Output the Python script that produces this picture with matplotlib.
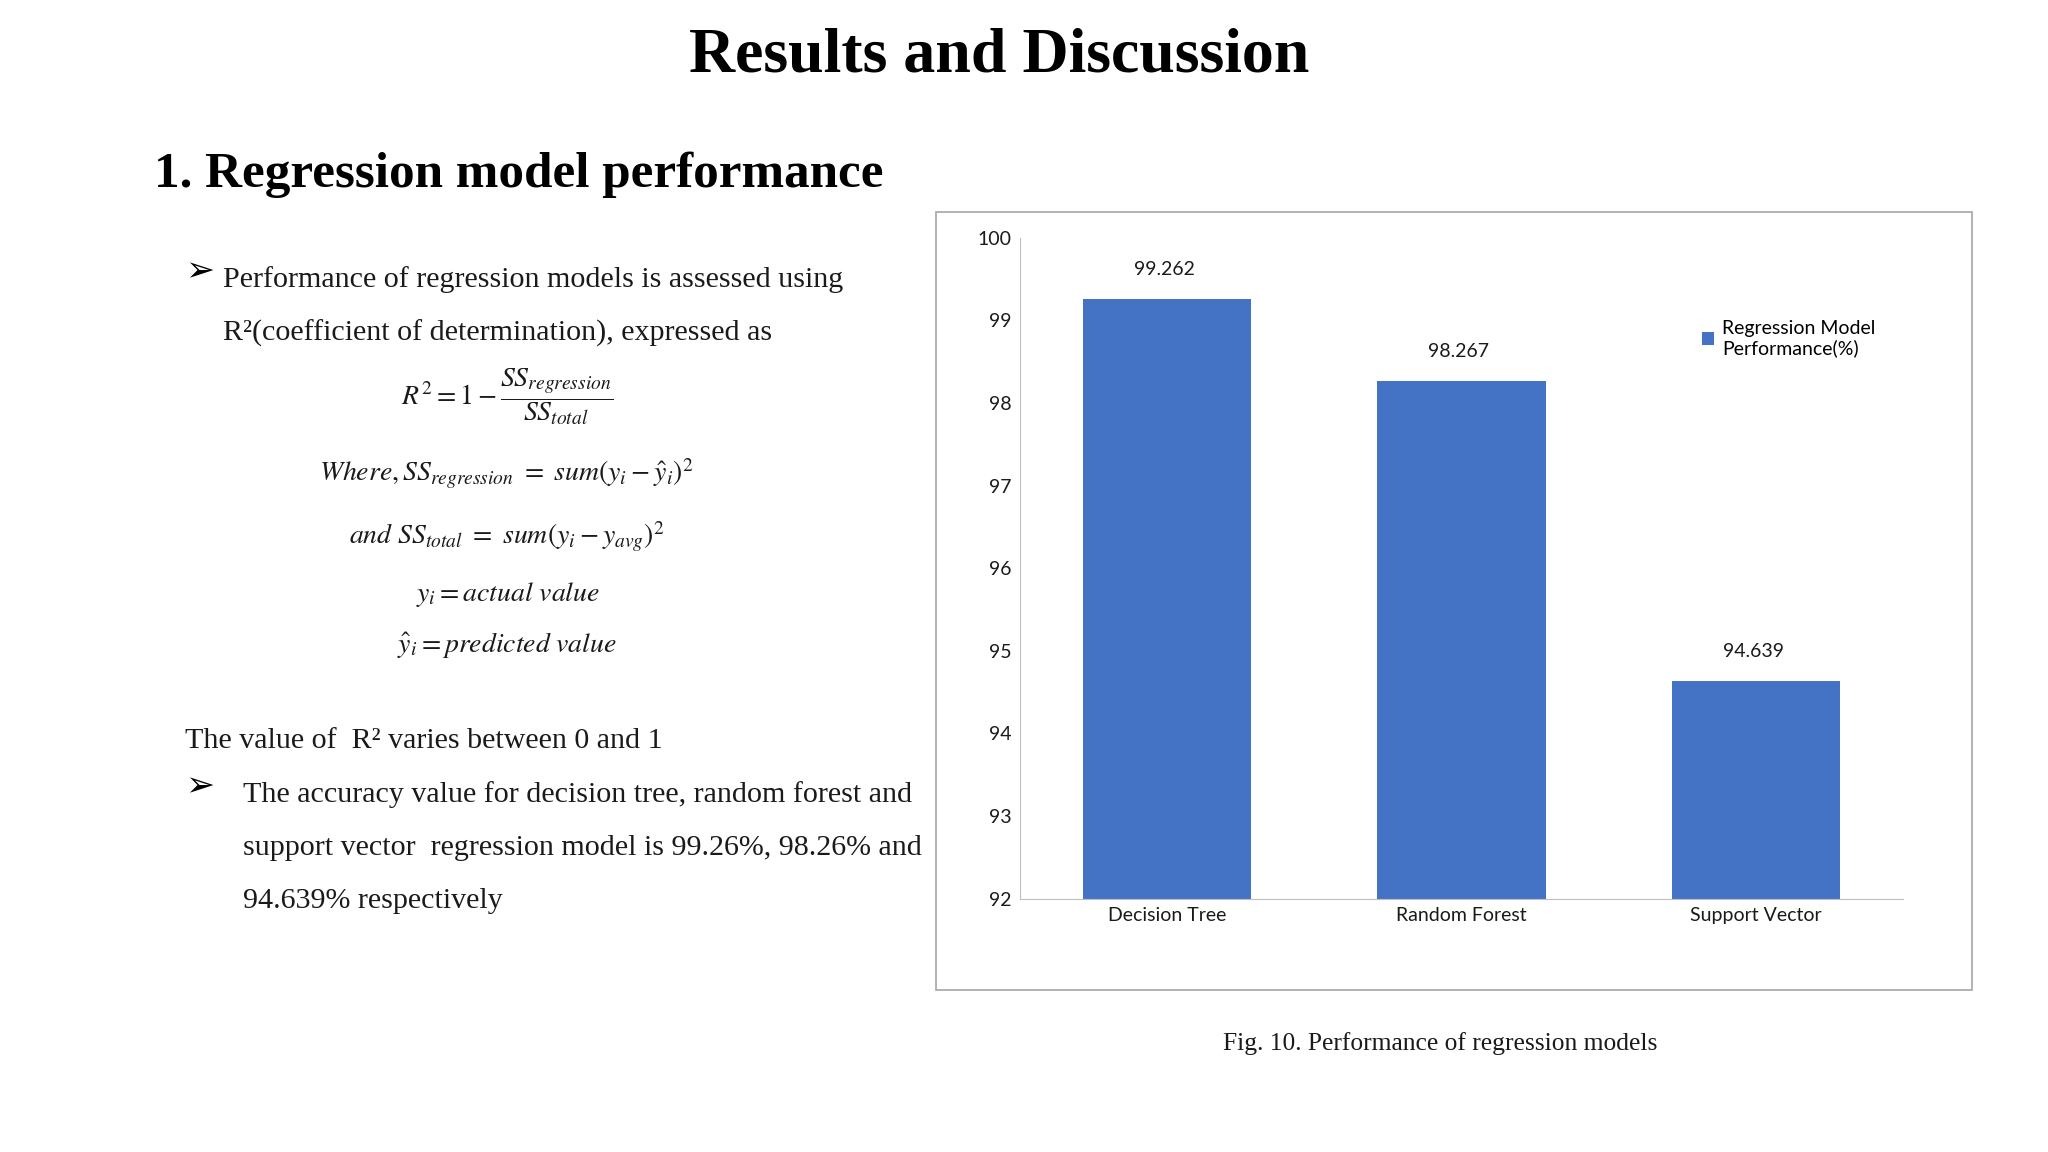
import matplotlib
matplotlib.use("Agg")
import matplotlib.pyplot as plt
from matplotlib.patches import Rectangle

models = ["Decision Tree", "Random Forest", "Support Vector"]
performance = [99.262, 98.267, 94.639]
value_labels = ["99.262", "98.267", "94.639"]
y_ticks = [92, 93, 94, 95, 96, 97, 98, 99, 100]
legend_label = "Regression Model\nPerformance(%)"

title = "Results and Discussion"
heading = "1. Regression model performance"
bullet1 = ["Performance of regression models is assessed using",
           "R\u00b2(coefficient of determination), expressed as"]
formulas = [r"$R^2 = 1 - \dfrac{SS_{regression}}{SS_{total}}$",
            r"$Where, SS_{regression}\ =\ sum(y_i - \hat{y}_i)^2$",
            r"$and\ SS_{total}\ =\ sum(y_i - y_{avg})^2$",
            r"$y_i = actual\ value$",
            r"$\hat{y}_i = predicted\ value$"]
range_text = "The value of  R\u00b2 varies between 0 and 1"
bullet2 = ["The accuracy value for decision tree, random forest and",
           "support vector  regression model is 99.26%, 98.26% and",
           "94.639% respectively"]
caption = "Fig. 10. Performance of regression models"

plt.rcParams["mathtext.fontset"] = "stix"

W, H = 1568.0, 882.0   # layout measured on the reference preview
def fx(px):
    return px / W
def fy(py):
    return 1 - py / H

fig = plt.figure(figsize=(20.48, 11.52), dpi=100)
fig.patch.set_facecolor("white")

serif = "Liberation Serif"
fig.text(fx(765), fy(43), title, ha="center", va="center",
         family=serif, weight="bold", fontsize=46)
fig.text(fx(118), fy(134), heading, ha="left", va="center",
         family=serif, weight="bold", fontsize=36.8)

# first bullet
fig.text(fx(142), fy(208), "\u27a2", ha="left", va="center",
         family="DejaVu Sans", fontsize=25)
for i, line in enumerate(bullet1):
    fig.text(fx(171), fy(214 + 41 * i), line, ha="left", va="center",
             family=serif, fontsize=21.6, color="#1a1a1a")

# formulas
f_pos = [(388, 304), (388, 363), (388, 411), (389, 455), (388, 494)]
for (px, py), f in zip(f_pos, formulas):
    fig.text(fx(px), fy(py), f, ha="center", va="center", fontsize=20,
             color="#1a1a1a")

fig.text(fx(142), fy(567), range_text, ha="left", va="center",
         family=serif, fontsize=21.6, color="#1a1a1a")

fig.text(fx(142), fy(602), "\u27a2", ha="left", va="center",
         family="DejaVu Sans", fontsize=25)
for i, line in enumerate(bullet2):
    fig.text(fx(186), fy(608 + 41 * i), line, ha="left", va="center",
             family=serif, fontsize=21.6, color="#1a1a1a")

fig.text(fx(1103), fy(799), caption, ha="center", va="center",
         family=serif, fontsize=18.4, color="#1a1a1a")

# chart frame
fig.patches.append(Rectangle((fx(717), fy(758)), fx(1510) - fx(717),
                             fy(162) - fy(758), transform=fig.transFigure,
                             fill=False, edgecolor="#A6A6A6", linewidth=1.2))

ax = fig.add_axes([fx(781), fy(688), fx(1457) - fx(781), fy(182) - fy(688)])
x = range(len(models))
bars = ax.bar(x, performance, width=0.572, color="#4472C4",
              label=legend_label)
ax.set_ylim(92, 100)
ax.set_xlim(-0.5, 2.5)
ax.set_yticks(y_ticks)
ax.set_xticks(list(x))
ax.set_xticklabels(models)
for lab in ax.get_xticklabels() + ax.get_yticklabels():
    lab.set_family("Lato")
    lab.set_fontsize(14)
    lab.set_color("#1a1a1a")
ax.tick_params(length=0, pad=6)
for s in ["top", "right"]:
    ax.spines[s].set_visible(False)
ax.spines["left"].set_color("#BFBFBF")
ax.spines["bottom"].set_color("#BFBFBF")

for xi, v, t in zip(x, performance, value_labels):
    ax.annotate(t, (xi, v), xytext=(-2, 21), textcoords="offset points",
                ha="center", va="center", family="Lato", fontsize=14,
                color="#1a1a1a")

ax.legend(loc="upper left", bbox_to_anchor=(0.764, 0.888),
          frameon=False, prop={"family": "Lato", "size": 14},
          handlelength=0.6, handleheight=0.6, handletextpad=0.4,
          labelspacing=0, borderaxespad=0)

fig.savefig("out.png", dpi=100, facecolor="white")
